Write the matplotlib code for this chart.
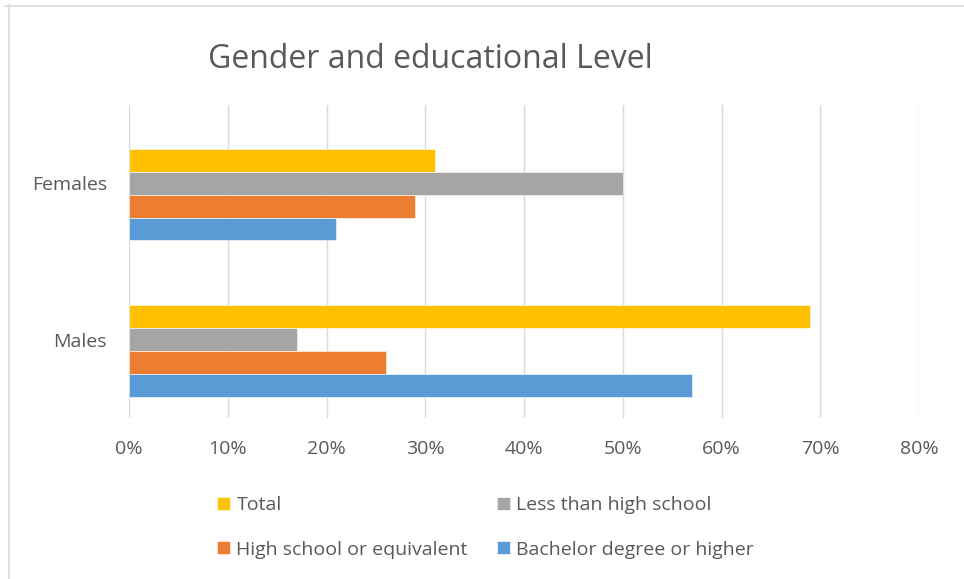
#! /usr/bin/env python3
import matplotlib
matplotlib.use("Agg")
import matplotlib.pyplot as plt
from matplotlib.lines import Line2D
from matplotlib.ticker import PercentFormatter
import numpy as np

plt.rcParams["font.family"] = ["Open Sans", "DejaVu Sans"]

# Data.
groups = ["Males", "Females"]
series = ["Total", "Less than high school", "High school or equivalent",
          "Bachelor degree or higher"]
total = [0.69, 0.31]
less_than_hs = [0.17, 0.50]
high_school = [0.26, 0.29]
bachelor = [0.57, 0.21]
values = [total, less_than_hs, high_school, bachelor]
colors = ["#FFC000", "#A5A5A5", "#ED7D31", "#5B9BD5"]
text_color = "#595959"
grid_color = "#D9D9D9"

fig = plt.figure(figsize=(9.64, 5.79), dpi=100)
ax = fig.add_axes([129 / 964, 1 - 418 / 579, 790 / 964, 313 / 579])

# Bars stacked top to bottom inside each category band.
y = np.arange(len(groups))
h = 0.146
offsets = [1.0, 0.0, -1.0, -2.0]
bars = []
for vals, color, off, name in zip(values, colors, offsets, series):
    b = ax.barh(y + off * h, vals, height=h, color=color, label=name,
                edgecolor="white", linewidth=0.4, zorder=3)
    bars.append(b)

ax.set_xlim(0, 0.8)
ax.set_ylim(-0.5, 1.5)
ax.set_xticks(np.arange(0, 0.81, 0.1))
ax.xaxis.set_major_formatter(PercentFormatter(1.0, decimals=0))
ax.set_yticks(y)
ax.set_yticklabels(groups)
ax.tick_params(axis="both", length=0, labelsize=14, colors=text_color)
ax.tick_params(axis="x", pad=16)
ax.tick_params(axis="y", pad=16)
ax.grid(axis="x", color=grid_color, linewidth=1.0, zorder=0)
for s in ax.spines.values():
    s.set_visible(False)

fig.text(430 / 964, 1 - 59 / 579, "Gender and educational Level",
         fontsize=23, color=text_color, ha="center", va="center")

# Legend: two rows, two columns.
order = [0, 2, 1, 3]
leg = fig.legend([bars[i] for i in order], [series[i] for i in order],
                 ncol=2, loc="upper left", bbox_to_anchor=(217 / 964, 1 - 496 / 579),
                 frameon=False, fontsize=14, handlelength=0.65, handleheight=0.65,
                 handletextpad=0.35, columnspacing=1.5, labelspacing=1.37,
                 borderaxespad=0, borderpad=0)
for t in leg.get_texts():
    t.set_color(text_color)

# Chart area border (top and left edges visible).
fig.add_artist(Line2D([5 / 964, 1], [1 - 6 / 579, 1 - 6 / 579],
                      color=grid_color, linewidth=1.2, transform=fig.transFigure))
fig.add_artist(Line2D([8.5 / 964, 8.5 / 964], [0, 1 - 5 / 579],
                      color=grid_color, linewidth=1.2, transform=fig.transFigure))

fig.savefig("out.png", dpi=100)
